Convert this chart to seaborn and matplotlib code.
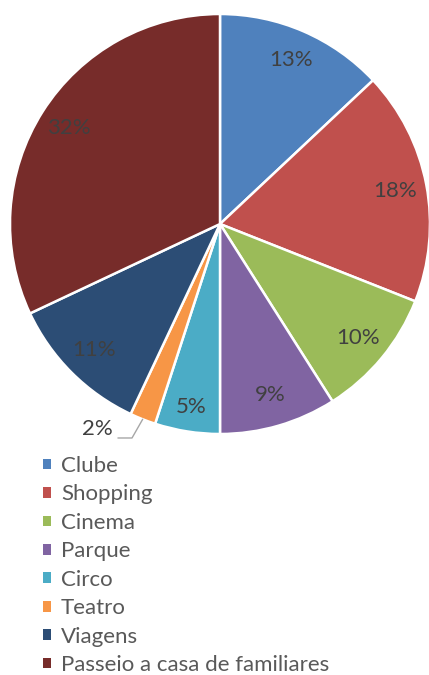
import numpy as np
import matplotlib.pyplot as plt
import seaborn as sns
from matplotlib.patches import Patch

sns.set_theme(style="white")
plt.rcParams['font.family'] = ['Lato', 'DejaVu Sans']

# dados do gráfico
categorias = ["Clube", "Shopping", "Cinema", "Parque", "Circo", "Teatro",
              "Viagens", "Passeio a casa de familiares"]
percentagens = [13, 18, 10, 9, 5, 2, 11, 32]
cores = ["#4F81BD", "#C0504D", "#9BBB59", "#8064A2", "#4BACC6", "#F79646",
         "#2C4D75", "#772C2A"]

fig = plt.figure(figsize=(4.29, 6.75), dpi=100)
ax = fig.add_axes([10 / 429, 1 - 434 / 675, 420 / 429, 420 / 675])

wedges, _ = ax.pie(percentagens, colors=cores, startangle=90, counterclock=False,
                   radius=1.0, wedgeprops=dict(edgecolor="white", linewidth=1.8))
ax.set_xlim(-1.0, 1.0)
ax.set_ylim(-1.0, 1.0)
ax.set_aspect("equal")

cor_texto = "#404040"
for w, p in zip(wedges, percentagens):
    ang = np.deg2rad((w.theta1 + w.theta2) / 2)
    if p == 2:
        # rótulo fora da fatia com linha de ligação
        x0, y0 = np.cos(ang) * 1.0, np.sin(ang) * 1.0
        ax.plot([x0, -0.419, -0.486], [y0, -1.019, -1.019], color="#A6A6A6",
                lw=1.0, clip_on=False)
        ax.text(-0.51, -0.975, f"{p}%", ha="right", va="center", fontsize=16,
                color=cor_texto, clip_on=False)
        continue
    r = 0.85 if p > 5 else 0.88
    ax.text(np.cos(ang) * r, np.sin(ang) * r, f"{p}%", ha="center", va="center",
            fontsize=16, color=cor_texto)

handles = [Patch(facecolor=c, edgecolor="none") for c in cores]
fig.legend(handles, categorias, loc="upper left", bbox_to_anchor=(43 / 429, 1 - 456 / 675),
           frameon=False, fontsize=16, handlelength=0.36, handleheight=0.36,
           handletextpad=0.45, labelspacing=0.38, borderaxespad=0, borderpad=0,
           labelcolor="#595959")

fig.savefig("out.png", dpi=100)
